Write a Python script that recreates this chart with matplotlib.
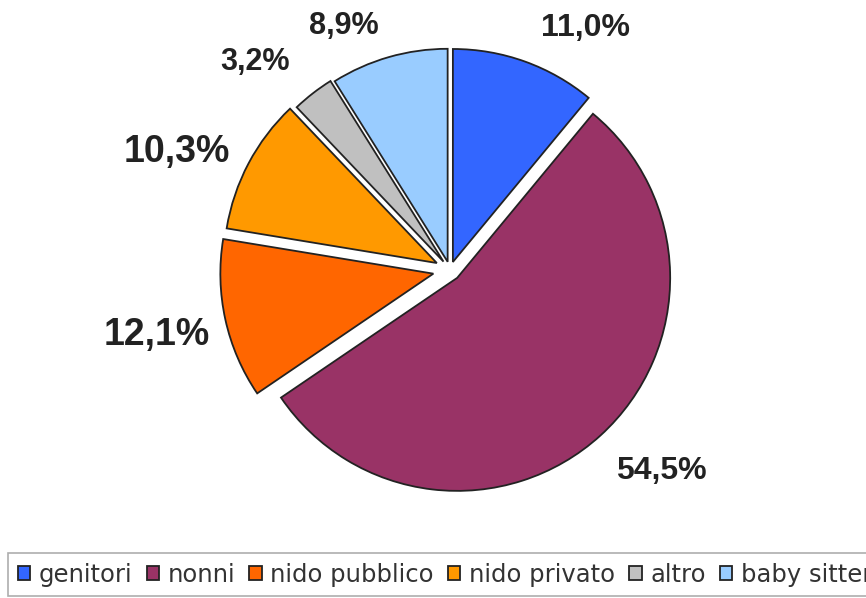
import numpy as np
import matplotlib.pyplot as plt

plt.rcParams['font.family'] = ['Liberation Sans', 'DejaVu Sans']

categories = ['genitori', 'nonni', 'nido pubblico', 'nido privato', 'altro', 'baby sitter']
values = [11.0, 54.5, 12.1, 10.3, 3.2, 8.9]
labels = ['11,0%', '54,5%', '12,1%', '10,3%', '3,2%', '8,9%']
colors = ['#3366FF', '#993366', '#FF6600', '#FF9900', '#C0C0C0', '#99CCFF']
explode = [0.04, 0.05, 0.08, 0.07, 0.05, 0.04]

# label placement: distance (in radii), angle shift from wedge middle, font size
label_dist = [1.30, 1.37, 1.41, 1.395, 1.34, 1.25]
label_shift = [-9.4, 4.1, 0.1, 4.5, 5.4, 7.5]
label_size = [23, 23, 27, 27, 22, 22]

W, H = 866, 598
cx, cy, R = 450, 270, 213

fig = plt.figure(figsize=(W / 100, H / 100), dpi=100)
ax = fig.add_axes([0, 0, 1, 1])
ax.axis('off')

wedges, _ = ax.pie(values, colors=colors, explode=explode, startangle=90,
                   counterclock=False, radius=1.0,
                   wedgeprops=dict(edgecolor='#222222', linewidth=1.3))

for w, lab, d, s, fs in zip(wedges, labels, label_dist, label_shift, label_size):
    ang = np.deg2rad((w.theta1 + w.theta2) / 2 + s)
    ax.text(d * np.cos(ang), d * np.sin(ang), lab, ha='center', va='center',
            fontsize=fs, fontweight='bold', color='#222222')

ax.set_aspect('auto')
ax.set_xlim(-cx / R, (W - cx) / R)
ax.set_ylim(-(H - cy) / R, cy / R)

# legend box runs off the right edge like in the picture
leg = fig.legend(wedges, categories, loc='upper left', ncol=6,
                 bbox_to_anchor=(8 / W, 1 - 553 / H),
                 prop=dict(family='DejaVu Sans', size=17.5),
                 handlelength=0.5, handleheight=0.5, handletextpad=0.35,
                 columnspacing=0.6, borderpad=0.4, borderaxespad=0,
                 fancybox=False, edgecolor='#999999')
leg.get_frame().set_linewidth(1.2)
for t in leg.get_texts():
    t.set_color('#333333')

fig.savefig('out.png', dpi=100)
